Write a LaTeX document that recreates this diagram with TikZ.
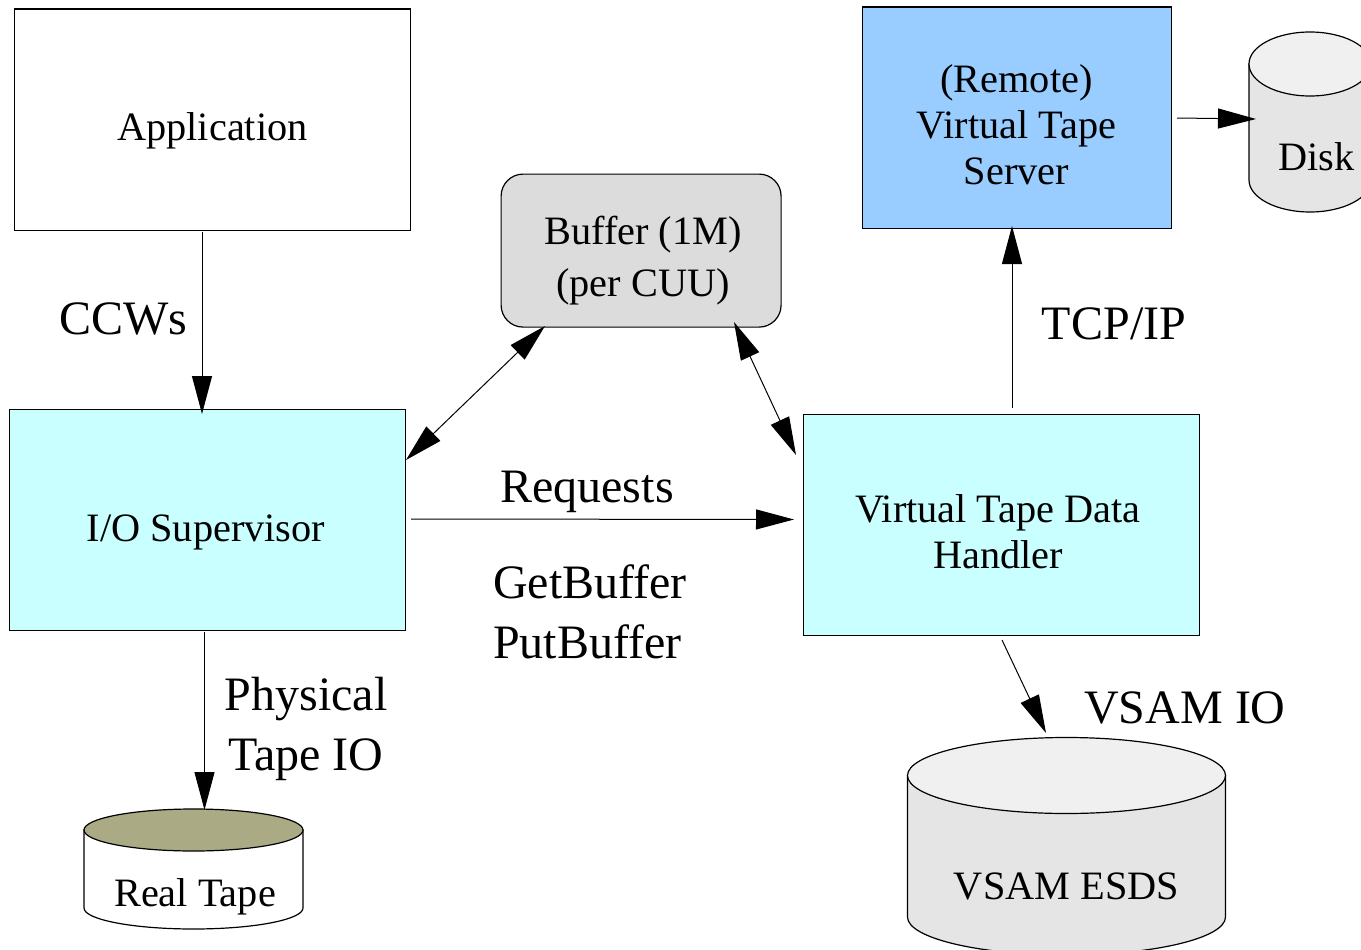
\documentclass[tikz,border=0pt]{standalone}
\usepackage{fontspec}
\setmainfont{Liberation Serif}
\usetikzlibrary{arrows.meta}
\definecolor{cyanbox}{HTML}{C9FFFF}
\definecolor{bluebox}{HTML}{99CCFF}
\definecolor{graybox}{HTML}{DCDCDC}
\definecolor{diskbody}{HTML}{E5E5E5}
\definecolor{disktop}{HTML}{F0F0F0}
\definecolor{tapetop}{HTML}{AAAA84}
\tikzset{x=1pt,y=-1pt,
 box/.style={draw=black,line width=1.2pt,inner sep=0pt,anchor=north west,align=center},
 conn/.style={draw=black,line width=1pt,-{Triangle[length=38pt,width=20pt]}},
 dconn/.style={draw=black,line width=1pt,{Triangle[length=38pt,width=20pt]}-{Triangle[length=38pt,width=20pt]}},
 lab/.style={font=\fontsize{48}{60}\selectfont,align=center,inner sep=0pt},
 txt/.style={font=\fontsize{40.3}{46}\selectfont,align=center,inner sep=0pt},
}
% centre x, x radius, y radius, top centre y, bottom centre y, body colour, top colour
\newcommand{\drum}[7]{%
 \filldraw[draw=black,line width=1.2pt,fill=#6] ({#1-#2},#4) -- ({#1-#2},#5) arc[start angle=180,end angle=0,x radius=#2,y radius=#3] -- ({#1+#2},#4) -- cycle;
 \filldraw[draw=black,line width=1.2pt,fill=#7] (#1,#4) ellipse[x radius=#2,y radius=#3];
}
\begin{document}
\begin{tikzpicture}
\useasboundingbox (0,0) rectangle (1361,950);
\node[box,minimum width=396pt,minimum height=221pt] (app) at (13.5,8.5) {};
\node[txt] (appt) at (212.5,131) {Application};
\node[box,fill=cyanbox,minimum width=396pt,minimum height=221pt] (io) at (8.5,408.5) {};
\node[txt] (iot) at (206,532) {I/O Supervisor};
\node[box,fill=cyanbox,minimum width=396pt,minimum height=221pt] (vt) at (802.5,413.5) {};
\node[txt] (vtt) at (998,532) {Virtual Tape Data\\Handler};
\node[box,fill=bluebox,minimum width=309pt,minimum height=221pt] (srv) at (861.5,6.5) {};
\node[txt] (srvt) at (1016.5,124.5) {(Remote)\\Virtual Tape\\Server};
\node[box,fill=graybox,rounded corners=22pt,minimum width=280pt,minimum height=153pt] (buf) at (500.5,173.5) {};
\node[txt,font=\fontsize{40.3}{52}\selectfont] (buft) at (643,260.5) {Buffer (1M)\\(per CUU)};
\drum{1310}{61}{32}{64}{180}{diskbody}{disktop}
\node[txt] (disk) at (1316.5,157) {Disk};
\drum{193.5}{109.5}{21}{830}{908}{white}{tapetop}
\node[txt] (tape) at (195,897) {Real Tape};
\drum{1066.5}{159}{38}{775.5}{917}{diskbody}{disktop}
\node[txt] (esds) at (1066.5,886) {VSAM ESDS};
\coordinate (a1) at (202,232); \coordinate (a2) at (202,414);
\draw[conn] (a1) -- (a2);
\coordinate (b1) at (204.5,632); \coordinate (b2) at (204.5,810);
\draw[conn] (b1) -- (b2);
\coordinate (c1) at (411,519); \coordinate (c2) at (794,519.5);
\draw[conn] (c1) -- (c2);
\coordinate (d1) at (406,460); \coordinate (d2) at (545,326);
\draw[dconn] (d1) -- (d2);
\coordinate (e1) at (734,322); \coordinate (e2) at (796,455);
\draw[dconn] (e1) -- (e2);
\coordinate (f1) at (1012,408); \coordinate (f2) at (1012,226);
\draw[conn] (f1) -- (f2);
\coordinate (g1) at (1177,118); \coordinate (g2) at (1256,119);
\draw[conn] (g1) -- (g2);
\coordinate (h1) at (1002,640); \coordinate (h2) at (1046,733);
\draw[conn] (h1) -- (h2);
\node[lab] (l1) at (123.5,319) {CCWs};
\node[lab] (l2) at (306,729) {Physical\\Tape IO};
\node[lab] (l3) at (587,492) {Requests};
\node[lab,align=left] (l4) at (590,612) {GetBuffer\\PutBuffer};
\node[lab] (l5) at (1114,324) {TCP/IP};
\node[lab] (l6) at (1185,708) {VSAM IO};
\end{tikzpicture}
\end{document}
